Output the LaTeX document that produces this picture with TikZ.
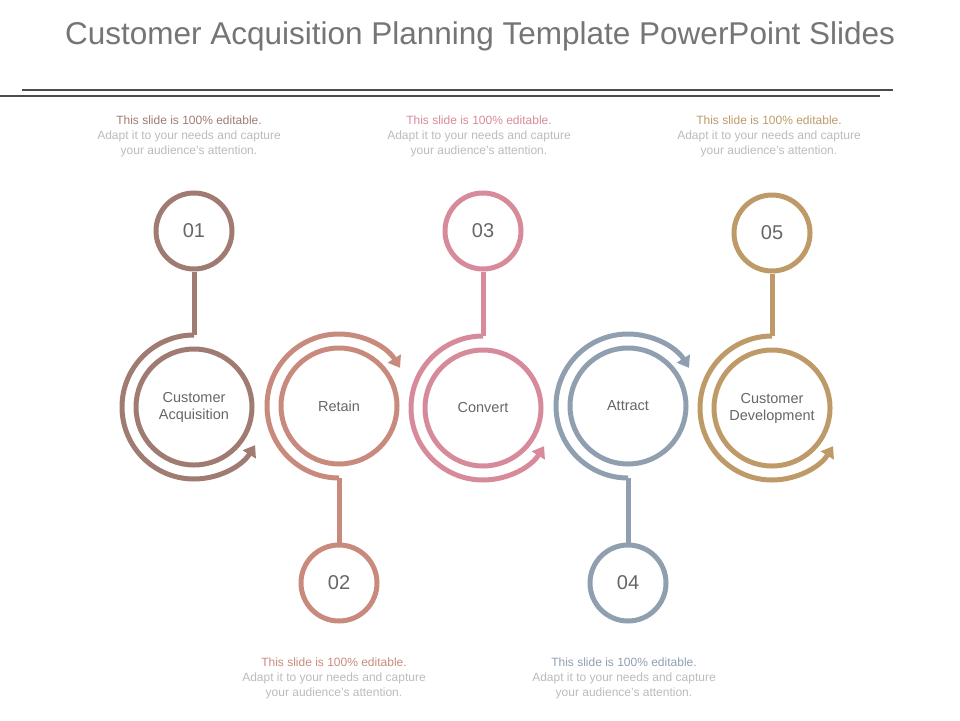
\documentclass[tikz,border=0pt]{standalone}
\usepackage{fontspec}
\setmainfont{Liberation Sans}
\usetikzlibrary{arrows.meta}
\definecolor{cA}{HTML}{A07B72}
\definecolor{cB}{HTML}{C98A7E}
\definecolor{cC}{HTML}{D78B9A}
\definecolor{cD}{HTML}{8F9FB0}
\definecolor{cE}{HTML}{BE9A68}
\definecolor{txt}{HTML}{666666}
\definecolor{lite}{HTML}{BBBBBB}
\tikzset{
 big/.style={circle,draw=#1,line width=5pt,minimum size=116pt,inner sep=0pt,text=txt,font=\fontsize{14.5}{17}\selectfont,align=center},
 small/.style={circle,draw=#1,line width=5pt,minimum size=76pt,inner sep=0pt,text=txt,font=\fontsize{20}{22}\selectfont},
 ring/.style={draw=#1,line width=5pt,-{Triangle[length=11pt,width=15pt]}},
 stem/.style={draw=#1,line width=5pt},
 note/.style={align=center,font=\fontsize{12}{15}\selectfont,text=lite}
}
\begin{document}
\begin{tikzpicture}[x=1pt,y=-1pt]
\useasboundingbox (0,0) rectangle (960,720);
\node[text=txt!90,font=\fontsize{31.5}{34}\selectfont] (title) at (480,36) {Customer Acquisition Planning Template PowerPoint Slides};
\coordinate (l1a) at (22,90); \coordinate (l1b) at (893,90);
\coordinate (l2a) at (0,96); \coordinate (l2b) at (880,96);
\draw[line width=1.2pt,color=black!70] (l1a) -- (l1b);
\draw[line width=1.2pt,color=black!70] (l2a) -- (l2b);
% group 1
\node[big=cA] (b1) at (194,407) {Customer\\Acquisition};
\node[small=cA] (s1) at (194,231) {01};
\coordinate (t1) at (194,335);
\draw[stem=cA] (s1) -- (t1);
\draw[ring=cA] (t1) arc[start angle=270,end angle=32,radius=72];
% group 2
\node[big=cB] (b2) at (339,406) {Retain};
\node[small=cB] (s2) at (339,583) {02};
\coordinate (t2) at (339,478);
\draw[stem=cB] (s2) -- (t2);
\draw[ring=cB] (t2) arc[start angle=90,end angle=328,radius=72];
% group 3
\node[big=cC] (b3) at (483,408) {Convert};
\node[small=cC] (s3) at (483,231) {03};
\coordinate (t3) at (483,336);
\draw[stem=cC] (s3) -- (t3);
\draw[ring=cC] (t3) arc[start angle=270,end angle=32,radius=72];
% group 4
\node[big=cD] (b4) at (628,406) {Attract};
\node[small=cD] (s4) at (628,583) {04};
\coordinate (t4) at (628,478);
\draw[stem=cD] (s4) -- (t4);
\draw[ring=cD] (t4) arc[start angle=90,end angle=328,radius=72];
% group 5
\node[big=cE] (b5) at (772,408) {Customer\\Development};
\node[small=cE] (s5) at (772,233) {05};
\coordinate (t5) at (772,336);
\draw[stem=cE] (s5) -- (t5);
\draw[ring=cE] (t5) arc[start angle=270,end angle=32,radius=72];
% notes
\node[note] (n1) at (189,136) {\textcolor{cA}{This slide is 100\% editable.}\\Adapt it to your needs and capture\\your audience's attention.};
\node[note] (n3) at (479,136) {\textcolor{cC}{This slide is 100\% editable.}\\Adapt it to your needs and capture\\your audience's attention.};
\node[note] (n5) at (769,136) {\textcolor{cE}{This slide is 100\% editable.}\\Adapt it to your needs and capture\\your audience's attention.};
\node[note] (n2) at (334,678) {\textcolor{cB}{This slide is 100\% editable.}\\Adapt it to your needs and capture\\your audience's attention.};
\node[note] (n4) at (624,678) {\textcolor{cD}{This slide is 100\% editable.}\\Adapt it to your needs and capture\\your audience's attention.};
\end{tikzpicture}
\end{document}
